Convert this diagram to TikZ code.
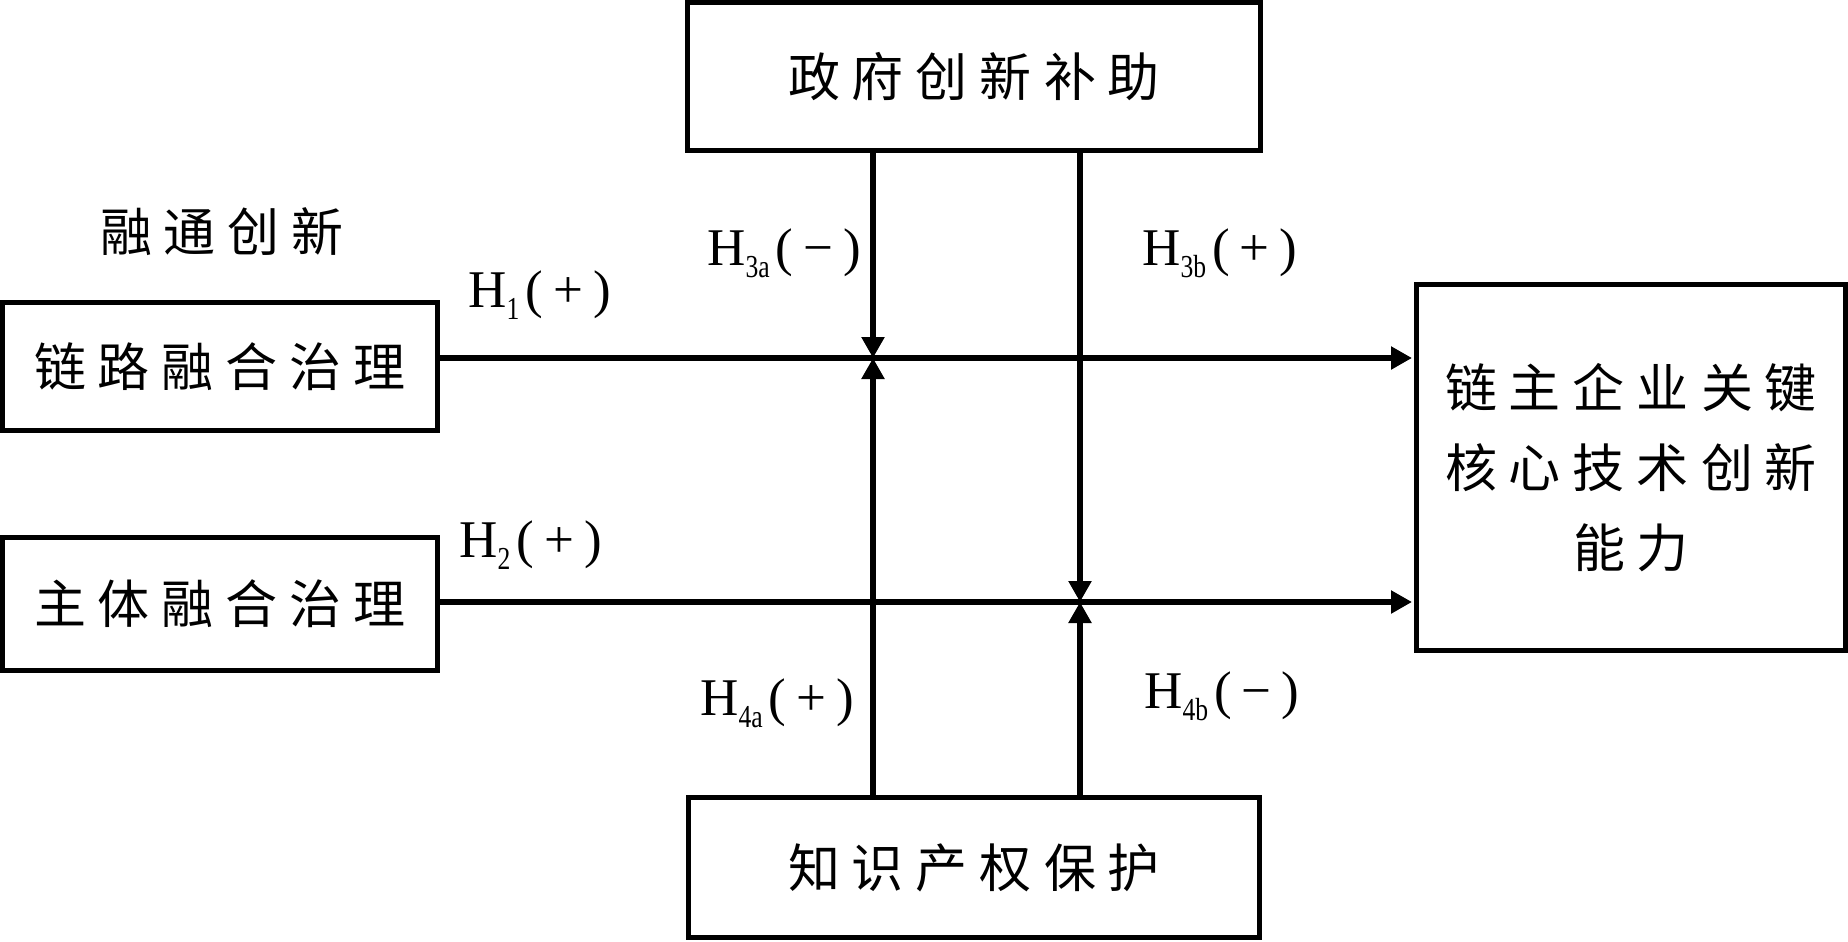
\documentclass[tikz,border=0pt]{standalone}
\usepackage{fontspec}
\setmainfont{Liberation Serif}
\newfontfamily\cjk{Noto Sans CJK SC}
\usetikzlibrary{arrows.meta}
\def\spaced#1{\spA#1\relax}
\def\spA#1{\ifx#1\relax\else#1\expandafter\spB\fi}
\def\spB#1{\ifx#1\relax\else\hspace{6pt}#1\expandafter\spB\fi}
\newcommand{\hyp}[2]{H\raisebox{-6pt}{\fontsize{16}{16}\selectfont\scalebox{0.8}[1]{#1}}\kern3pt(\kern5pt#2\kern5pt)}
\begin{document}
\begin{tikzpicture}[x=0.5pt,y=-0.5pt,
  box/.style={draw,line width=2.7pt,inner sep=0pt,font=\cjk\fontsize{26}{40}\selectfont},
  lbl/.style={inner sep=0pt,anchor=base west,font=\fontsize{26.5}{30}\selectfont},
  arr/.style={line width=2.7pt,-{Triangle[length=10.5pt,width=11pt]}}]
\useasboundingbox (0,0) rectangle (1848,942);
\node[box,minimum width=286.3pt,minimum height=73.8pt] (gov) at (974,76.5) {\spaced{政府创新补助}};
\node[box,minimum width=217.3pt,minimum height=63.8pt] (b1) at (220,366.5) {\spaced{链路融合治理}};
\node[box,minimum width=217.3pt,minimum height=66.3pt] (b2) at (220,604) {\spaced{主体融合治理}};
\node[box,minimum width=214.3pt,minimum height=182.8pt,align=center] (res) at (1631,467.5) {\spaced{链主企业关键}\\\spaced{核心技术创新}\\\spaced{能力}};
\node[box,minimum width=285.3pt,minimum height=69.8pt] (ipr) at (974,867.5) {\spaced{知识产权保护}};
\node[inner sep=0pt,font=\cjk\fontsize{26}{30}\selectfont] (rt) at (222,232) {\spaced{融通创新}};
\coordinate (ca) at (873,358);
\coordinate (cb) at (1080,602);
\draw[arr,shorten >=1pt] (b1.east |- ca) -- (res.west |- ca);
\draw[arr,shorten >=1pt] (b2.east |- cb) -- (res.west |- cb);
\draw[arr] (gov.south -| ca) -- (ca);
\draw[arr] (ipr.north -| ca) -- (ca);
\draw[arr] (gov.south -| cb) -- (cb);
\draw[arr] (ipr.north -| cb) -- (cb);
\node[lbl] (h1) at (468,307) {\hyp{1}{+}};
\node[lbl] (h2) at (459,557) {\hyp{2}{+}};
\node[lbl] (h3a) at (707,265) {\hyp{3a}{−}};
\node[lbl] (h3b) at (1142,265) {\hyp{3b}{+}};
\node[lbl] (h4a) at (700,715) {\hyp{4a}{+}};
\node[lbl] (h4b) at (1144,708) {\hyp{4b}{−}};
\end{tikzpicture}
\end{document}
